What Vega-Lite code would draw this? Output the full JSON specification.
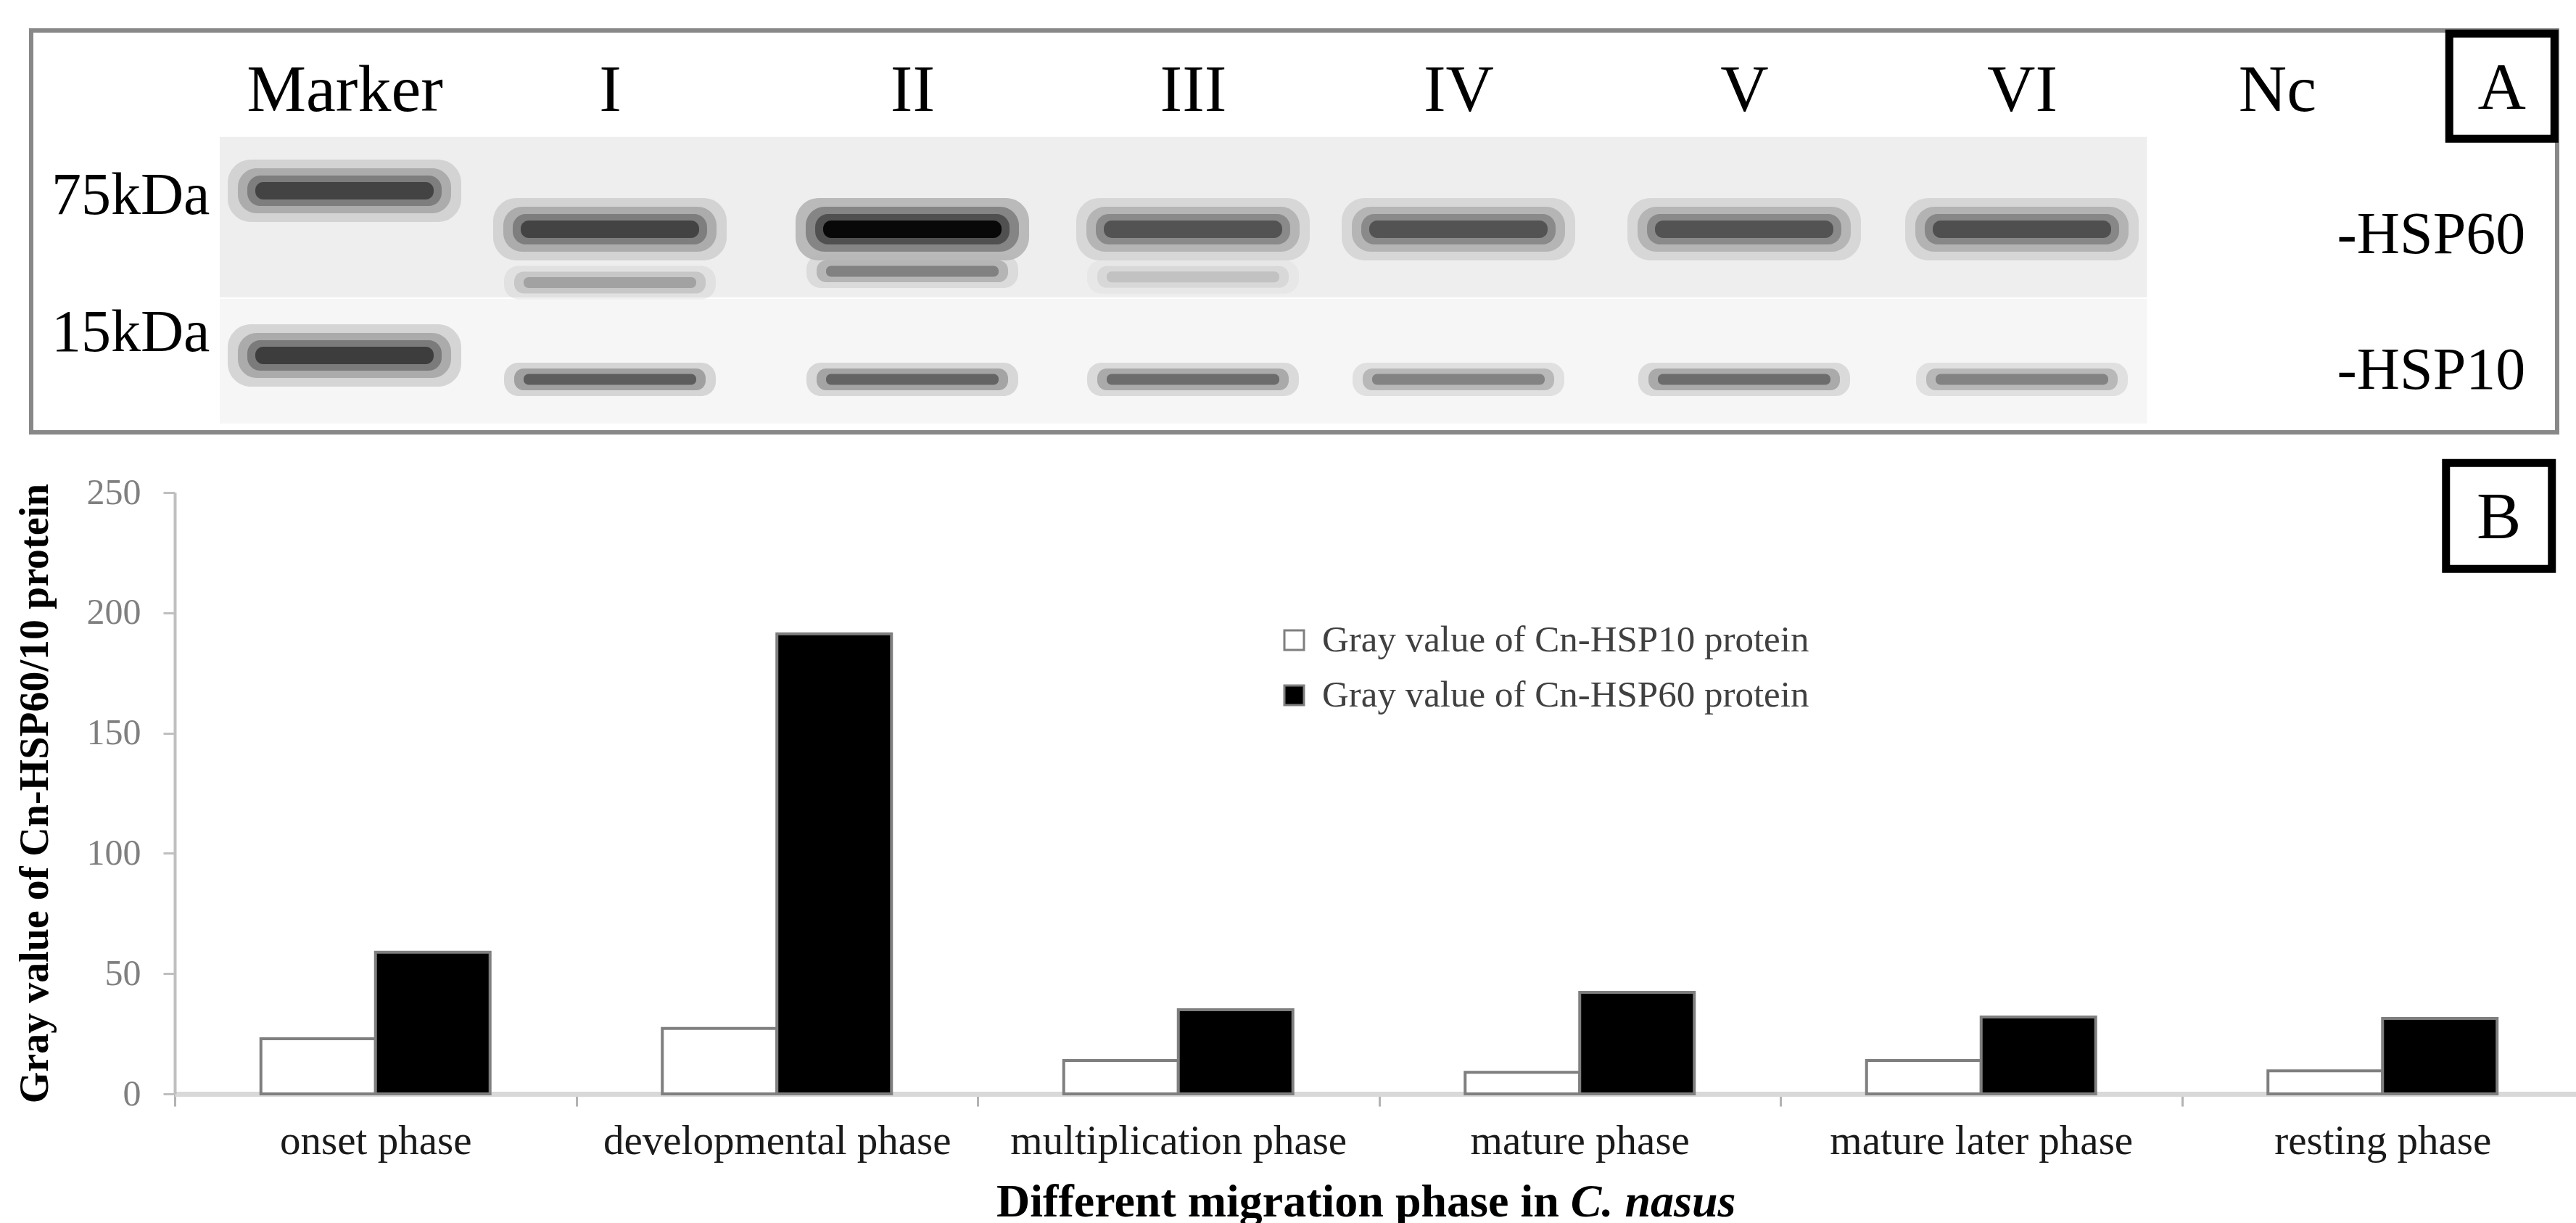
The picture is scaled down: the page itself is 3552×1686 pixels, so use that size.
{
  "$schema": "https://vega.github.io/schema/vega-lite/v6.json",
  "background": "white",
  "padding": {"left": 20, "top": 21, "right": 0, "bottom": 0},
  "config": {
    "view": {"stroke": null},
    "font": "Liberation Serif",
    "axis": {"labelFont": "Liberation Serif", "titleFont": "Liberation Serif", "labelLimit": 0},
    "legend": {"labelFont": "Liberation Serif", "labelLimit": 0}
  },
  "datasets": {
    "gray": [
      {"phase": "onset phase", "protein": "Gray value of Cn-HSP10 protein", "value": 22.9},
      {"phase": "onset phase", "protein": "Gray value of Cn-HSP60 protein", "value": 58.9},
      {"phase": "developmental phase", "protein": "Gray value of Cn-HSP10 protein", "value": 27.2},
      {"phase": "developmental phase", "protein": "Gray value of Cn-HSP60 protein", "value": 191.3},
      {"phase": "multiplication phase", "protein": "Gray value of Cn-HSP10 protein", "value": 13.9},
      {"phase": "multiplication phase", "protein": "Gray value of Cn-HSP60 protein", "value": 35.0},
      {"phase": "mature phase", "protein": "Gray value of Cn-HSP10 protein", "value": 9.0},
      {"phase": "mature phase", "protein": "Gray value of Cn-HSP60 protein", "value": 42.2},
      {"phase": "mature later phase", "protein": "Gray value of Cn-HSP10 protein", "value": 13.9},
      {"phase": "mature later phase", "protein": "Gray value of Cn-HSP60 protein", "value": 32.0},
      {"phase": "resting phase", "protein": "Gray value of Cn-HSP10 protein", "value": 9.6},
      {"phase": "resting phase", "protein": "Gray value of Cn-HSP60 protein", "value": 31.4}
    ],
    "blot": [
      {"lane": 0, "protein": "Marker", "kDa": 75, "density": 0.8},
      {"lane": 0, "protein": "Marker", "kDa": 15, "density": 0.82},
      {"lane": 1, "protein": "HSP60", "kDa": 60, "density": 0.8},
      {"lane": 1, "protein": "fragment", "kDa": 41, "density": 0.62},
      {"lane": 1, "protein": "HSP10", "kDa": 10, "density": 0.82},
      {"lane": 2, "protein": "HSP60", "kDa": 60, "density": 1.0},
      {"lane": 2, "protein": "fragment", "kDa": 45, "density": 0.72},
      {"lane": 2, "protein": "HSP10", "kDa": 10, "density": 0.8},
      {"lane": 3, "protein": "HSP60", "kDa": 60, "density": 0.76},
      {"lane": 3, "protein": "fragment", "kDa": 43, "density": 0.5},
      {"lane": 3, "protein": "HSP10", "kDa": 10, "density": 0.78},
      {"lane": 4, "protein": "HSP60", "kDa": 60, "density": 0.76},
      {"lane": 4, "protein": "HSP10", "kDa": 10, "density": 0.72},
      {"lane": 5, "protein": "HSP60", "kDa": 60, "density": 0.76},
      {"lane": 5, "protein": "HSP10", "kDa": 10, "density": 0.78},
      {"lane": 6, "protein": "HSP60", "kDa": 60, "density": 0.77},
      {"lane": 6, "protein": "HSP10", "kDa": 10, "density": 0.72}
    ]
  },
  "columns": 1,
  "bounds": "flush",
  "spacing": 83,
  "resolve": {"legend": {"color": "independent"}},
  "concat": [
    {
      "width": 3483,
      "height": 554,
      "view": {"stroke": "#888888", "strokeWidth": 6},
      "resolve": {
        "scale": {"x": "independent", "y": "independent"},
        "axis": {"x": "independent", "y": "independent"}
      },
      "layer": [
        {
          "layer": [
            {
              "data": {"values": [{"strip": "HSP60 membrane"}]},
              "mark": {"type": "rect", "fill": "#eeeeee"},
              "encoding": {
                "x": {
                  "datum": -0.47, "type": "quantitative",
                  "scale": {"type": "linear", "domain": [0, 1, 2, 3, 4, 5, 6, 7], "range": [432, 798, 1215, 1602, 1968, 2362, 2745, 3097], "nice": false, "zero": false},
                  "axis": {
                    "orient": "top", "values": [0, 1, 2, 3, 4, 5, 6, 7],
                    "labelExpr": "['Marker','I','II','III','IV','V','VI','Nc'][datum.value]",
                    "ticks": false, "tickSize": 0, "domain": false, "grid": false,
                    "offset": -110, "labelPadding": 0, "labelBaseline": "alphabetic",
                    "labelFontSize": 92, "labelColor": "#000000", "labelOverlap": false, "labelFlush": false,
                    "title": null
                  }
                },
                "x2": {"datum": 6.49},
                "y": {
                  "datum": 96, "type": "quantitative",
                  "scale": {"type": "linear", "domain": [75, 60, 15, 10], "range": [221, 274, 448, 481], "nice": false, "zero": false},
                  "axis": {
                    "orient": "left", "values": [75, 15],
                    "labelExpr": "datum.value + 'kDa'",
                    "ticks": false, "tickSize": 0, "domain": false, "grid": false,
                    "offset": -246, "labelPadding": 0, "labelAlign": "right", "labelBaseline": "middle",
                    "labelOffset": {"condition": {"test": "datum.value == 75", "value": 6}, "value": -32},
                    "labelFontSize": 82, "labelColor": "#000000", "labelOverlap": false, "labelFlush": false,
                    "title": null
                  }
                },
                "y2": {"datum": 35.7}
              }
            },
            {
              "data": {"values": [{"strip": "HSP10 membrane"}]},
              "mark": {"type": "rect", "fill": "#f6f6f6"},
              "encoding": {
                "x": {"datum": -0.47, "type": "quantitative"},
                "x2": {"datum": 6.49},
                "y": {"datum": 35.2, "type": "quantitative"},
                "y2": {"datum": 0.8}
              }
            },
            {
              "data": {"name": "blot"},
              "transform": [{"filter": "datum.protein == 'HSP60' || datum.protein == 'Marker'"}],
              "mark": {"type": "tick", "orient": "horizontal", "size": 322, "thickness": 86, "color": "#b4b4b4", "cornerRadius": 32},
              "encoding": {
                "x": {"field": "lane", "type": "quantitative"},
                "y": {"field": "kDa", "type": "quantitative"},
                "opacity": {"field": "density", "type": "quantitative", "scale": {"type": "pow", "exponent": 3, "domain": [0, 1], "range": [0, 0.9]}, "legend": null}
              }
            },
            {
              "data": {"name": "blot"},
              "transform": [{"filter": "datum.protein == 'HSP60' || datum.protein == 'Marker'"}],
              "mark": {"type": "tick", "orient": "horizontal", "size": 294, "thickness": 62, "color": "#808080", "cornerRadius": 26},
              "encoding": {
                "x": {"field": "lane", "type": "quantitative"},
                "y": {"field": "kDa", "type": "quantitative"},
                "opacity": {"field": "density", "type": "quantitative", "legend": null}
              }
            },
            {
              "data": {"name": "blot"},
              "transform": [{"filter": "datum.protein == 'HSP60' || datum.protein == 'Marker'"}],
              "mark": {"type": "tick", "orient": "horizontal", "size": 268, "thickness": 42, "color": "#4a4a4a", "cornerRadius": 18},
              "encoding": {
                "x": {"field": "lane", "type": "quantitative"},
                "y": {"field": "kDa", "type": "quantitative"},
                "opacity": {"field": "density", "type": "quantitative", "legend": null}
              }
            },
            {
              "data": {"name": "blot"},
              "transform": [{"filter": "datum.protein == 'HSP60' || datum.protein == 'Marker'"}],
              "mark": {"type": "tick", "orient": "horizontal", "size": 246, "thickness": 24, "color": "#000000", "cornerRadius": 11},
              "encoding": {
                "x": {"field": "lane", "type": "quantitative"},
                "y": {"field": "kDa", "type": "quantitative"},
                "opacity": {"field": "density", "type": "quantitative", "legend": null}
              }
            },
            {
              "data": {"name": "blot"},
              "transform": [{"filter": "datum.protein == 'HSP10' || datum.protein == 'fragment'"}],
              "mark": {"type": "tick", "orient": "horizontal", "size": 292, "thickness": 46, "color": "#b4b4b4", "cornerRadius": 20},
              "encoding": {
                "x": {"field": "lane", "type": "quantitative"},
                "y": {"field": "kDa", "type": "quantitative"},
                "opacity": {"field": "density", "type": "quantitative", "legend": null}
              }
            },
            {
              "data": {"name": "blot"},
              "transform": [{"filter": "datum.protein == 'HSP10' || datum.protein == 'fragment'"}],
              "mark": {"type": "tick", "orient": "horizontal", "size": 264, "thickness": 30, "color": "#6a6a6a", "cornerRadius": 13},
              "encoding": {
                "x": {"field": "lane", "type": "quantitative"},
                "y": {"field": "kDa", "type": "quantitative"},
                "opacity": {"field": "density", "type": "quantitative", "legend": null}
              }
            },
            {
              "data": {"name": "blot"},
              "transform": [{"filter": "datum.protein == 'HSP10' || datum.protein == 'fragment'"}],
              "mark": {"type": "tick", "orient": "horizontal", "size": 238, "thickness": 15, "color": "#1a1a1a", "cornerRadius": 7},
              "encoding": {
                "x": {"field": "lane", "type": "quantitative"},
                "y": {"field": "kDa", "type": "quantitative"},
                "opacity": {"field": "density", "type": "quantitative", "legend": null}
              }
            }
          ]
        },
        {
          "data": {"values": [{"panel": "A"}]},
          "layer": [
            {
              "mark": {"type": "point", "shape": "square", "size": 21025, "filled": false, "stroke": "#000000", "strokeWidth": 11, "opacity": 1},
              "encoding": {
                "x": {
                  "datum": 7.88, "type": "quantitative",
                  "scale": {"type": "linear", "domain": [0, 1, 2, 3, 4, 5, 6, 7], "range": [432, 798, 1215, 1602, 1968, 2362, 2745, 3097], "nice": false, "zero": false},
                  "axis": null
                },
                "y": {
                  "datum": 115.8, "type": "quantitative",
                  "scale": {"type": "linear", "domain": [75, 60, 15, 10], "range": [221, 274, 448, 481], "nice": false, "zero": false},
                  "axis": {
                    "orient": "right", "values": [60, 10],
                    "labelExpr": "'-HSP' + datum.value",
                    "ticks": false, "tickSize": 0, "domain": false, "grid": false,
                    "offset": -304, "labelPadding": 0, "labelAlign": "left", "labelBaseline": "middle",
                    "labelOffset": {"condition": {"test": "datum.value == 60", "value": 7}, "value": -13},
                    "labelFontSize": 82, "labelColor": "#000000", "labelOverlap": false, "labelFlush": false,
                    "title": null
                  }
                }
              }
            },
            {
              "mark": {"type": "text", "text": "A", "fontSize": 92, "align": "center", "baseline": "middle", "dy": 3, "color": "#000000"},
              "encoding": {
                "x": {"datum": 7.88, "type": "quantitative"},
                "y": {"datum": 115.8, "type": "quantitative"}
              }
            }
          ]
        }
      ]
    },
    {
      "width": 3519,
      "height": 829,
      "view": {"stroke": null},
      "resolve": {"scale": {"x": "independent"}, "axis": {"x": "independent"}},
      "layer": [
        {
          "data": {"name": "gray"},
          "mark": {"type": "bar", "stroke": "#7f7f7f", "strokeWidth": 4, "opacity": 1},
          "encoding": {
            "x": {
              "field": "phase", "type": "nominal",
              "sort": ["onset phase", "developmental phase", "multiplication phase", "mature phase", "mature later phase", "resting phase"],
              "scale": {"paddingInner": 0, "paddingOuter": 0, "range": [198, 3519]},
              "axis": {
                "title": null, "labelAngle": 0, "labelFontSize": 57, "labelColor": "#1a1a1a",
                "labelPadding": 20, "tickBand": "extent", "tickSize": 17, "tickColor": "#b3b3b3", "tickWidth": 3,
                "domainColor": "#d9d9d9", "domainWidth": 7, "grid": false
              }
            },
            "xOffset": {
              "field": "protein", "type": "nominal",
              "scale": {"paddingInner": 0, "paddingOuter": 0.7516}
            },
            "y": {
              "field": "value", "type": "quantitative",
              "scale": {"domain": [0, 250], "nice": false},
              "axis": {
                "values": [0, 50, 100, 150, 200, 250],
                "offset": -198,
                "title": "Gray value of Cn-HSP60/10 protein",
                "titleFontSize": 56, "titleFontWeight": "bold", "titleColor": "#000000", "titlePadding": 42,
                "labelFontSize": 50, "labelColor": "#7f7f7f", "labelPadding": 31,
                "tickSize": 16, "tickColor": "#bfbfbf", "tickWidth": 3,
                "domainColor": "#bfbfbf", "domainWidth": 4, "grid": false
              }
            },
            "color": {
              "field": "protein", "type": "nominal",
              "scale": {"range": ["#ffffff", "#000000"]},
              "legend": {
                "orient": "none", "legendX": 1716, "legendY": 178, "title": null,
                "symbolType": "square", "symbolSize": 729, "symbolStrokeColor": "#7f7f7f", "symbolStrokeWidth": 3,
                "labelFontSize": 51, "labelColor": "#404040", "labelOffset": 13, "rowPadding": 24, "padding": 0
              }
            }
          }
        },
        {
          "data": {"values": [{"panel": "B"}]},
          "layer": [
            {
              "mark": {"type": "point", "shape": "square", "size": 21316, "filled": false, "stroke": "#000000", "strokeWidth": 11, "opacity": 1},
              "encoding": {
                "x": {"datum": 5.79, "type": "quantitative", "scale": {"domain": [0, 6], "range": [198, 3519], "nice": false, "zero": false}, "axis": null},
                "y": {"datum": 240.3, "type": "quantitative", "scale": {"domain": [0, 250]}}
              }
            },
            {
              "mark": {"type": "text", "text": "B", "fontSize": 92, "align": "center", "baseline": "middle", "dy": 3, "color": "#000000"},
              "encoding": {
                "x": {"datum": 5.79, "type": "quantitative"},
                "y": {"datum": 240.3, "type": "quantitative"}
              }
            },
            {
              "mark": {"type": "text", "text": "Different migration phase in", "fontSize": 64, "fontWeight": "bold", "align": "right", "baseline": "alphabetic", "dx": -8, "color": "#000000"},
              "encoding": {
                "x": {"datum": 3.463, "type": "quantitative"},
                "y": {"datum": -51, "type": "quantitative"}
              }
            },
            {
              "mark": {"type": "text", "text": "C. nasus", "fontSize": 64, "fontWeight": "bold", "fontStyle": "italic", "align": "left", "baseline": "alphabetic", "dx": 8, "color": "#000000"},
              "encoding": {
                "x": {"datum": 3.463, "type": "quantitative"},
                "y": {"datum": -51, "type": "quantitative"}
              }
            }
          ]
        }
      ]
    }
  ]
}
